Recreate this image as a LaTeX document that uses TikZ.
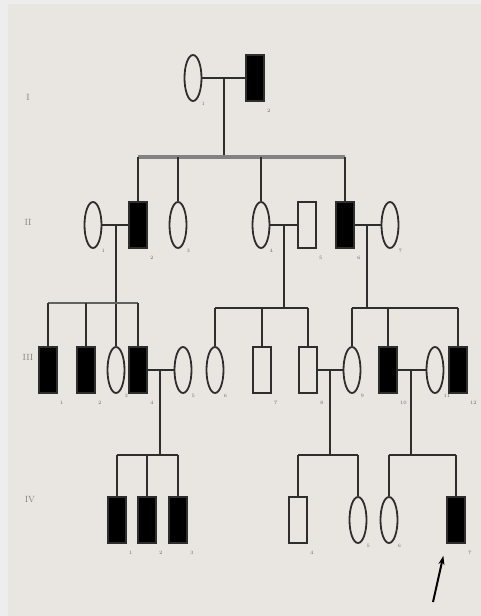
\documentclass[tikz,border=0pt]{standalone}
\usetikzlibrary{shapes.geometric,arrows.meta}
\definecolor{paper}{HTML}{E9E5E0}
\definecolor{rim}{HTML}{EDEDED}
\definecolor{ink}{HTML}{2E2E2E}
\begin{document}
\begin{tikzpicture}[x=1pt,y=-1pt,line width=2pt,draw=ink,
  male/.style={rectangle,draw=ink,line width=2pt,fill=paper,minimum width=18pt,minimum height=46pt,inner sep=0pt},
  female/.style={ellipse,draw=ink,line width=1.8pt,fill=paper,minimum width=17pt,minimum height=46pt,inner sep=0pt},
  sick/.style={fill=black},
  num/.style={font=\tiny,text=ink!70,inner sep=1pt},
  tag/.style={label={[num,anchor=north west,yshift=-5pt]south east:#1}},
  gen/.style={font=\small,text=ink!60}]
\fill[rim](0,0)rectangle(481,616);
\fill[paper](8,4)rectangle(481,616);
\useasboundingbox(0,0)rectangle(481,616);

% generation marks
\node[gen] (gI) at (28,97){I};
\node[gen] (gII) at (28,222){II};
\node[gen] (gIII) at (28,357){III};
\node[gen] (gIV) at (30,500){IV};

% generation I
\node[female,tag=1] (I1) at (193,78){};
\node[male,sick,tag=2] (I2) at (255,78){};
\draw(I1)--(I2);
\coordinate (m1) at (224,78);
\coordinate (s1) at (224,157);
\draw(m1)--(s1);

% generation II
\node[female,tag=1] (II1) at (93,225){};
\node[male,sick,tag=2] (II2) at (138,225){};
\node[female,tag=3] (II3) at (178,225){};
\node[female,tag=4] (II4) at (261,225){};
\node[male,tag=5] (II5) at (307,225){};
\node[male,sick,tag=6] (II6) at (345,225){};
\node[female,tag=7] (II7) at (390,225){};
\draw[line width=3.5pt,ink!60](II2|-s1)--(II6|-s1);
\foreach \k in {II2,II3,II4,II6} \draw(\k|-s1)--(\k);
\draw(II1)--(II2);
\draw(II4)--(II5);
\draw(II6)--(II7);
\coordinate (m2) at (116,225);
\coordinate (m3) at (284,225);
\coordinate (m4) at (367,225);
\coordinate (s2) at (116,303);
\coordinate (s3) at (284,308);
\coordinate (s4) at (367,308);

% generation III
\node[male,sick,tag=1] (III1) at (48,370){};
\node[male,sick,tag=2] (III2) at (86,370){};
\node[female,tag=3] (III3) at (116,370){};
\node[male,sick,tag=4] (III4) at (138,370){};
\node[female,tag=5] (III5) at (183,370){};
\node[female,tag=6] (III6) at (215,370){};
\node[male,tag=7] (III7) at (262,370){};
\node[male,tag=8] (III8) at (308,370){};
\node[female,tag=9] (III9) at (352,370){};
\node[male,sick,tag=10] (III10) at (388,370){};
\node[female,tag=11] (III11) at (435,370){};
\node[male,sick,tag=12] (III12) at (458,370){};
\draw(m2)--(III3);
\draw[line width=2.6pt,ink!75](III1|-s2)--(III4|-s2);
\foreach \k in {III1,III2,III4} \draw(\k|-s2)--(\k);
\draw(m3)--(s3);
\draw(III6|-s3)--(III8|-s3);
\foreach \k in {III6,III7,III8} \draw(\k|-s3)--(\k);
\draw(m4)--(s4);
\draw(III9|-s4)--(III12|-s4);
\foreach \k in {III9,III10,III12} \draw(\k|-s4)--(\k);
\draw(III4)--(III5);
\draw(III8)--(III9);
\draw(III10)--(III11);
\coordinate (m5) at (160,370);
\coordinate (m6) at (330,370);
\coordinate (m7) at (411,370);
\coordinate (s5) at (160,455);
\coordinate (s6) at (330,455);
\coordinate (s7) at (411,455);

% generation IV
\node[male,sick,tag=1] (IV1) at (117,520){};
\node[male,sick,tag=2] (IV2) at (147,520){};
\node[male,sick,tag=3] (IV3) at (178,520){};
\node[male,tag=4] (IV4) at (298,520){};
\node[female,tag=5] (IV5) at (358,520){};
\node[female,tag=6] (IV6) at (389,520){};
\node[male,sick,tag=7] (IV7) at (456,520){};
\draw(m5)--(s5);
\draw(IV1|-s5)--(IV3|-s5);
\foreach \k in {IV1,IV2,IV3} \draw(\k|-s5)--(\k);
\draw(m6)--(s6);
\draw(IV4|-s6)--(IV5|-s6);
\foreach \k in {IV4,IV5} \draw(\k|-s6)--(\k);
\draw(m7)--(s7);
\draw(IV6|-s7)--(IV7|-s7);
\foreach \k in {IV6,IV7} \draw(\k|-s7)--(\k);

% proband
\coordinate (pro) at (433,602);
\draw[-{Stealth[length=9pt,width=6pt]},line width=2pt,black,shorten >=12pt](pro)--(IV7.south west);

\end{tikzpicture}
\end{document}
